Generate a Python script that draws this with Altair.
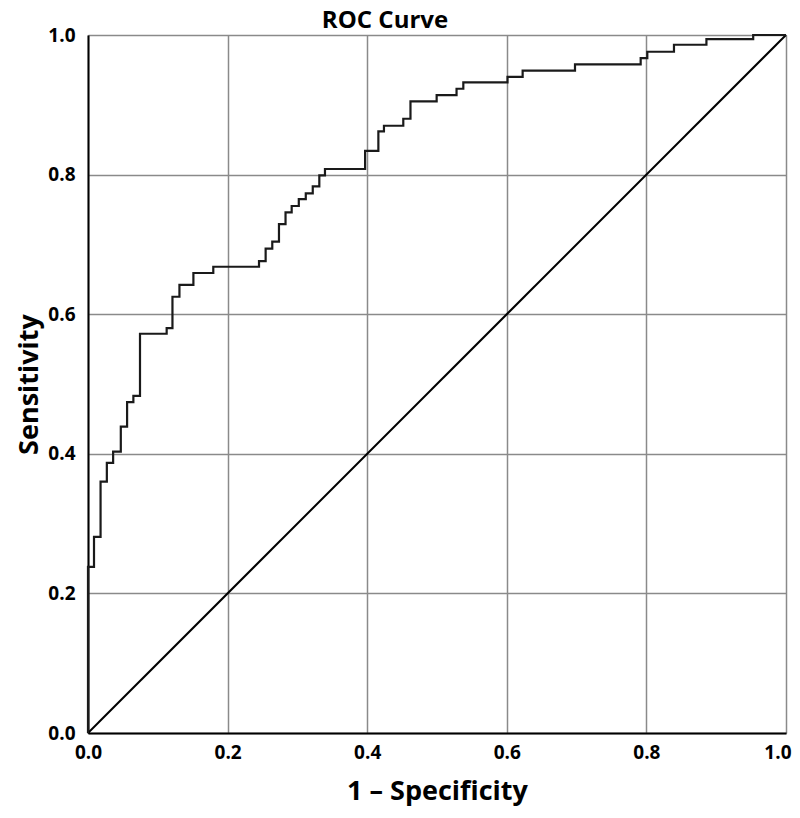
import altair as alt
import pandas as pd

# ROC curve corner points (1 - specificity, sensitivity)
fpr = [0.0, 0.0, 0.0086, 0.018, 0.027, 0.036, 0.047, 0.056, 0.065, 0.0745,
       0.1127, 0.121, 0.131, 0.151, 0.1795, 0.245, 0.2545, 0.264, 0.2736, 0.283,
       0.2918, 0.302, 0.312, 0.322, 0.3314, 0.3395, 0.397, 0.416, 0.424, 0.4517,
       0.462, 0.4995, 0.528, 0.5377, 0.601, 0.6227, 0.6977, 0.7918, 0.8013, 0.8395,
       0.886, 0.953, 1.0]
tpr = [0.0, 0.238, 0.281, 0.360, 0.387, 0.403, 0.439, 0.474, 0.483, 0.572,
       0.580, 0.625, 0.642, 0.659, 0.668, 0.676, 0.694, 0.704, 0.729, 0.746,
       0.755, 0.765, 0.773, 0.783, 0.799, 0.808, 0.834, 0.862, 0.870, 0.880,
       0.905, 0.914, 0.923, 0.932, 0.940, 0.949, 0.958, 0.967, 0.976, 0.986,
       0.994, 1.0, 1.0]

# Reference diagonal
diag_x = [0.0, 1.0]
diag_y = [0.0, 1.0]

tick_values = [0.0, 0.2, 0.4, 0.6, 0.8, 1.0]
chart_title = ["ROC Curve"]

roc = pd.DataFrame({"fpr": fpr, "tpr": tpr, "order": list(range(len(fpr)))})
diag = pd.DataFrame({"fpr": diag_x, "tpr": diag_y})
title_df = pd.DataFrame({"label": chart_title})

FONT = "Open Sans"
GRID = "#8a8a8a"

x_scale = alt.Scale(domain=[0, 1], nice=False, zero=False)
y_scale = alt.Scale(domain=[0, 1], nice=False, zero=False)

x_axis = alt.Axis(
    values=tick_values, format=".1f", title="1 – Specificity",
    grid=True, gridColor=GRID, gridWidth=1.5, ticks=False,
    domainColor="black", domainWidth=2,
    labelFont=FONT, labelFontSize=19, labelFontWeight="bold", labelColor="black",
    labelPadding=10, labelFlush=False,
    labelAlign=alt.ExprRef("datum.value >= 1 ? 'right' : 'center'"),
    labelOffset=alt.ExprRef("datum.value >= 1 ? 5 : 0"),
    titleFont=FONT, titleFontSize=27, titleFontWeight="bold", titleColor="black",
    titleY=66, titleBaseline="alphabetic",
)
y_axis = alt.Axis(
    values=tick_values, format=".1f", title="Sensitivity",
    grid=True, gridColor=GRID, gridWidth=1.5, ticks=False,
    domainColor="black", domainWidth=2,
    labelFont=FONT, labelFontSize=19, labelFontWeight="bold", labelColor="black",
    labelPadding=13, labelFlush=False,
    titleFont=FONT, titleFontSize=27, titleFontWeight="bold", titleColor="black",
    titleX=-51, titleY=349, titleAngle=270, titleAlign="center",
    titleBaseline="alphabetic",
)

diag_layer = alt.Chart(diag).mark_line(color="black", strokeWidth=2).encode(
    x=alt.X("fpr:Q", scale=x_scale, axis=x_axis),
    y=alt.Y("tpr:Q", scale=y_scale, axis=y_axis),
)

roc_layer = alt.Chart(roc).mark_line(
    color="#1a1a1a", strokeWidth=2.2, interpolate="step-after"
).encode(
    x=alt.X("fpr:Q", scale=x_scale),
    y=alt.Y("tpr:Q", scale=y_scale),
    order="order:Q",
)

title_layer = alt.Chart(title_df).mark_text(
    font=FONT, fontSize=24, fontWeight="bold", color="black",
    align="center", baseline="alphabetic",
).encode(
    text="label:N",
    x=alt.value(297),
    y=alt.value(-7),
)

chart = alt.layer(diag_layer, roc_layer, title_layer).properties(
    width=698,
    height=698,
    autosize=alt.AutoSizeParams(type="none"),
    padding={"left": 80, "top": 27, "right": 6, "bottom": 73},
).configure_view(stroke=GRID, strokeWidth=1.5).configure(background="white")

chart.save("out.html", embed_options={"renderer": "svg", "actions": False})
